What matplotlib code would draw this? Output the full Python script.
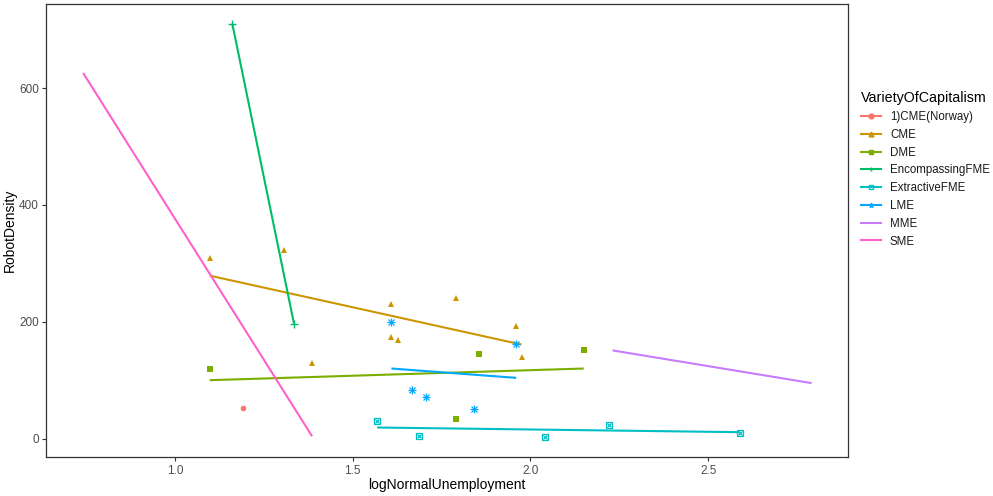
import matplotlib
matplotlib.use("Agg")
import matplotlib.pyplot as plt
from matplotlib.lines import Line2D

plt.rcParams["font.family"] = ["Liberation Sans", "DejaVu Sans"]

groups = ["1)CME(Norway)", "CME", "DME", "EncompassingFME",
          "ExtractiveFME", "LME", "MME", "SME"]
colors = ["#F8766D", "#CD9600", "#7CAE00", "#00BE67",
          "#00BFC4", "#00A9FF", "#C77CFF", "#FF61CC"]

# observed points per group (MME and SME have no shape left in the palette)
norway_x = [1.193]
norway_y = [52]
cme_x = [1.098, 1.308, 1.609, 1.609, 1.629, 1.386, 1.792, 1.960, 1.975]
cme_y = [309, 323, 230, 174, 168, 130, 241, 193, 140]
dme_x = [1.098, 1.856, 2.150, 1.791]
dme_y = [119, 145, 152, 33]
encomp_x = [1.162, 1.335]
encomp_y = [709, 197]
extract_x = [1.569, 1.687, 2.041, 2.221, 2.589]
extract_y = [31, 5, 3, 23, 10]
lme_x = [1.609, 1.668, 1.705, 1.841, 1.960]
lme_y = [200, 83, 71, 50, 162]

# fitted lm lines (x start, x end, y start, y end)
fit_x0 = [None, 1.098, 1.098, 1.162, 1.569, 1.609, 2.231, 0.742]
fit_x1 = [None, 1.975, 2.150, 1.335, 2.589, 1.960, 2.791, 1.386]
fit_y0 = [None, 279, 100, 709, 19, 120, 151, 626]
fit_y1 = [None, 161, 120, 197, 11, 104, 95, 4]

pts_x = [norway_x, cme_x, dme_x, encomp_x, extract_x, lme_x, [], []]
pts_y = [norway_y, cme_y, dme_y, encomp_y, extract_y, lme_y, [], []]
shapes = ["o", "^", "s", "+", "sx", "*8", None, None]


def draw_points(ax, x, y, shape, col):
    ms = 4
    if shape == "sx":
        ax.plot(x, y, ls="none", marker="s", ms=ms, mfc="none", mec=col, mew=0.9)
        ax.plot(x, y, ls="none", marker="x", ms=ms * 0.8, mec=col, mew=0.9)
    elif shape == "*8":
        ax.plot(x, y, ls="none", marker="+", ms=ms + 1.5, mec=col, mew=0.9)
        ax.plot(x, y, ls="none", marker="x", ms=ms + 0.5, mec=col, mew=0.9)
    elif shape == "+":
        ax.plot(x, y, ls="none", marker="+", ms=ms + 2, mec=col, mew=1.0)
    else:
        ax.plot(x, y, ls="none", marker=shape, ms=ms, mfc=col, mec=col, mew=0)


fig = plt.figure(figsize=(9.93, 4.96), dpi=100)
ax = fig.add_axes([0.0463, 0.0792, 0.8074, 0.9127])

for i, g in enumerate(groups):
    if pts_x[i]:
        draw_points(ax, pts_x[i], pts_y[i], shapes[i], colors[i])
    if fit_x0[i] is not None:
        ax.plot([fit_x0[i], fit_x1[i]], [fit_y0[i], fit_y1[i]],
                color=colors[i], lw=1.5, solid_capstyle="butt")

ax.set_xlim(0.6375, 2.8925)
ax.set_ylim(-31, 744)
ax.set_xticks([1.0, 1.5, 2.0, 2.5])
ax.set_yticks([0, 200, 400, 600])
ax.tick_params(direction="out", length=3, width=0.8, color="#333333",
               labelcolor="#4D4D4D", labelsize=8.5, pad=2)
ax.tick_params(axis="x", pad=3)
for s in ax.spines.values():
    s.set_color("#333333")
    s.set_linewidth(0.9)
ax.set_xlabel("logNormalUnemployment", fontsize=10, labelpad=1)
ax.set_ylabel("RobotDensity", fontsize=10, labelpad=2)

# legend keys: line with the group's point shape
handles = []
mk = {"o": "o", "^": "^", "s": "s", "+": "+", "sx": "s", "*8": "*"}
for i, g in enumerate(groups):
    m = mk.get(shapes[i]) if shapes[i] else None
    h = Line2D([0], [0], color=colors[i], lw=1.5, marker=m, ms=3.5,
               mfc=colors[i] if shapes[i] not in ("sx",) else "none",
               mec=colors[i])
    handles.append(h)
leg = fig.legend(handles, groups, loc="upper left",
                 bbox_to_anchor=(0.8625, 0.825), frameon=False,
                 title="VarietyOfCapitalism", title_fontsize=10.3,
                 fontsize=8.3, handlelength=1.7, handletextpad=0.8,
                 labelspacing=0.5, alignment="left", borderaxespad=0)
for t in leg.get_texts():
    t.set_color("#1A1A1A")

fig.savefig("out.png", dpi=100)
